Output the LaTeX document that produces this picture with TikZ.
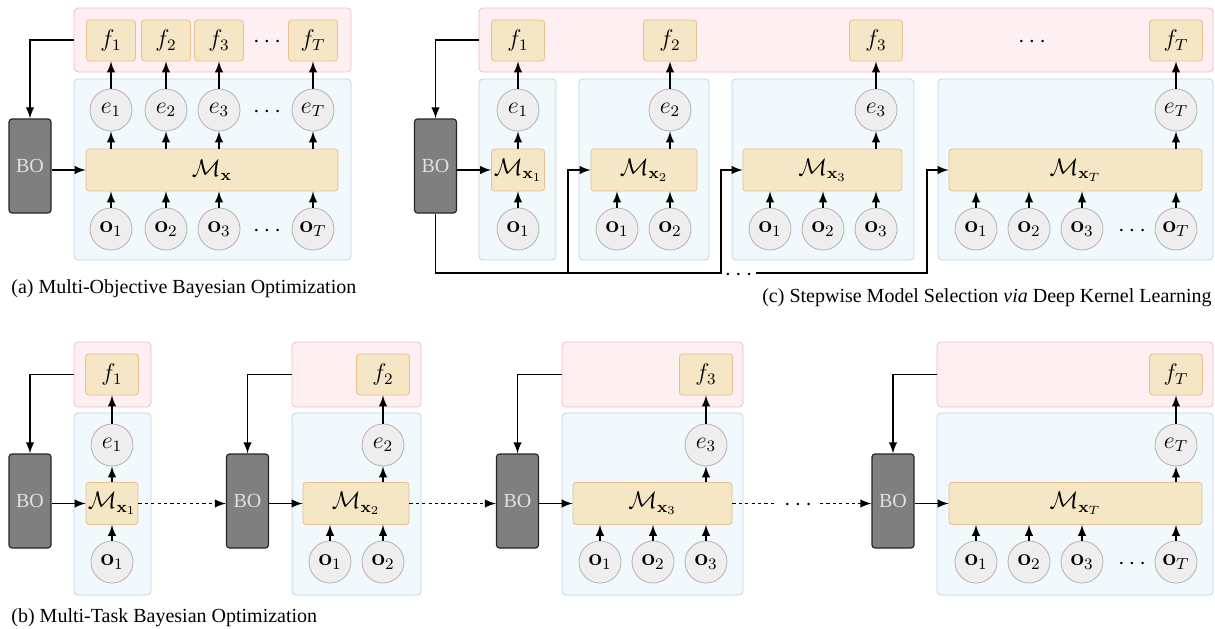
\documentclass[tikz,border=0pt]{standalone}
\usepackage[no-math]{fontspec}
\setmainfont{Liberation Serif}
\definecolor{taskfill}{HTML}{FDEFF2}
\definecolor{taskline}{HTML}{F3BCC3}
\definecolor{netfill}{HTML}{F1F9FC}
\definecolor{netline}{HTML}{BAD3E5}
\definecolor{boxfill}{HTML}{F5E6C6}
\definecolor{boxline}{HTML}{EAC08E}
\definecolor{nodefill}{HTML}{EEEEEE}
\definecolor{nodeline}{HTML}{B2B2B2}
\definecolor{bofill}{HTML}{7F7F7F}

\begin{document}
\begin{tikzpicture}
[x=0.5pt, y=-0.5pt, font=\normalsize]
\tikzstyle{taskarea}=[draw=taskline, fill=taskfill, rounded corners=2pt, inner sep=0pt]
\tikzstyle{netarea}=[draw=netline, fill=netfill, rounded corners=2pt, inner sep=0pt]
\tikzstyle{fbox}=[draw=boxline, fill=boxfill, rounded corners=1.5pt, inner sep=0pt, minimum width=26.5pt, minimum height=20.5pt, font=\large]
\tikzstyle{mbox}=[draw=boxline, fill=boxfill, rounded corners=1.5pt, inner sep=0pt, minimum height=21pt, font=\large]
\tikzstyle{vertex}=[circle, draw=nodeline, fill=nodefill, inner sep=0pt, minimum size=21pt, font=\large]
\tikzstyle{bo}=[draw=black!85, fill=bofill, rounded corners=1.5pt, line width=0.6pt, minimum width=21pt, minimum height=47pt, text=white!88!black]
\tikzstyle{ellip}=[inner sep=0pt, yshift=-1pt, font=\large]
\tikzstyle{link}=[line width=0.9pt, -latex]
\tikzstyle{dotlink}=[line width=0.9pt, -latex, dash pattern=on 1.6pt off 1.6pt]
\tikzstyle{caption}=[inner sep=0pt]

\useasboundingbox (0,0) rectangle (1215,628);

% (a)
\node[taskarea, minimum width=138.5pt, minimum height=32pt]	(aT)	at (212.5,40)	{};
\node[netarea, minimum width=138.5pt, minimum height=90.5pt]	(aN)	at (212.5,169.5)	{};
\node[fbox, minimum width=24.5pt]	(aF1)	at (111,40.5)	{$f_1$};
\node[fbox, minimum width=24.5pt]	(aF2)	at (166,40.5)	{$f_2$};
\node[fbox, minimum width=24.5pt]	(aF3)	at (219,40.5)	{$f_3$};
\node[ellip]	(aFd)	at (267,40.5)	{$\cdots$};
\node[fbox, minimum width=24.5pt]	(aFT)	at (313,40.5)	{$f_T$};
\node[vertex]	(aE1)	at (111,110)	{$e_1$};
\node[vertex]	(aE2)	at (166,110)	{$e_2$};
\node[vertex]	(aE3)	at (219,110)	{$e_3$};
\node[ellip]	(aEd)	at (267,110)	{$\cdots$};
\node[vertex]	(aET)	at (313,110)	{$e_T$};
\node[mbox, minimum width=126pt]	(aM)	at (212,170)	{$\mathcal{M}_{\mathbf{x}}$};
\node[vertex]	(aO1)	at (111,229)	{$\mathbf{o}_1$};
\node[vertex]	(aO2)	at (166,229)	{$\mathbf{o}_2$};
\node[vertex]	(aO3)	at (219,229)	{$\mathbf{o}_3$};
\node[ellip]	(aOd)	at (267,229)	{$\cdots$};
\node[vertex]	(aOT)	at (313,229)	{$\mathbf{o}_T$};
\node[bo]	(aBO)	at (30,166)	{BO};
\node[caption, anchor=west]	(aCap)	at (11,289)	{(a) Multi-Objective Bayesian Optimization};

\draw[link]	(aT.west) -| (aBO.north);
\draw[link]	(aBO.east |- aM.west) -- (aM.west);
\draw[link]	(aE1) -- (aF1);
\draw[link]	(aE2) -- (aF2);
\draw[link]	(aE3) -- (aF3);
\draw[link]	(aET) -- (aFT);
\draw[link]	(aM.north -| aE1) -- (aE1);
\draw[link]	(aM.north -| aE2) -- (aE2);
\draw[link]	(aM.north -| aE3) -- (aE3);
\draw[link]	(aM.north -| aET) -- (aET);
\draw[link]	(aO1) -- (aO1 |- aM.south);
\draw[link]	(aO2) -- (aO2 |- aM.south);
\draw[link]	(aO3) -- (aO3 |- aM.south);
\draw[link]	(aOT) -- (aOT |- aM.south);

% (c)
\node[taskarea, minimum width=367pt, minimum height=32pt]	(cT)	at (846,40)	{};
\node[netarea, minimum width=38.5pt, minimum height=90.5pt]	(cN1)	at (517.5,169.5)	{};
\node[netarea, minimum width=65pt, minimum height=90.5pt]	(cN2)	at (644,169.5)	{};
\node[netarea, minimum width=91pt, minimum height=90.5pt]	(cN3)	at (823,169.5)	{};
\node[netarea, minimum width=137.5pt, minimum height=90.5pt]	(cN4)	at (1075.5,169.5)	{};
\node[fbox]	(cF1)	at (518,40.5)	{$f_1$};
\node[fbox]	(cF2)	at (670,40.5)	{$f_2$};
\node[fbox]	(cF3)	at (876,40.5)	{$f_3$};
\node[ellip]	(cFd)	at (1032,40.5)	{$\cdots$};
\node[fbox]	(cFT)	at (1176,40.5)	{$f_T$};
\node[vertex]	(cE1)	at (518,110)	{$e_1$};
\node[vertex]	(cE2)	at (670,110)	{$e_2$};
\node[vertex]	(cE3)	at (876,110)	{$e_3$};
\node[vertex]	(cET)	at (1176,110)	{$e_T$};
\node[mbox, minimum width=26.5pt]	(cM1)	at (518,170)	{$\mathcal{M}_{\mathbf{x}_1}$};
\node[mbox, minimum width=53pt]	(cM2)	at (644,170)	{$\mathcal{M}_{\mathbf{x}_2}$};
\node[mbox, minimum width=79.5pt]	(cM3)	at (822.5,170)	{$\mathcal{M}_{\mathbf{x}_3}$};
\node[mbox, minimum width=126.5pt]	(cMT)	at (1075.5,170)	{$\mathcal{M}_{\mathbf{x}_T}$};
\node[vertex]	(c1O1)	at (518,229)	{$\mathbf{o}_1$};
\node[vertex]	(c2O1)	at (617,229)	{$\mathbf{o}_1$};
\node[vertex]	(c2O2)	at (670,229)	{$\mathbf{o}_2$};
\node[vertex]	(c3O1)	at (770,229)	{$\mathbf{o}_1$};
\node[vertex]	(c3O2)	at (823,229)	{$\mathbf{o}_2$};
\node[vertex]	(c3O3)	at (876,229)	{$\mathbf{o}_3$};
\node[vertex]	(c4O1)	at (976,229)	{$\mathbf{o}_1$};
\node[vertex]	(c4O2)	at (1029,229)	{$\mathbf{o}_2$};
\node[vertex]	(c4O3)	at (1082,229)	{$\mathbf{o}_3$};
\node[ellip]	(c4Od)	at (1132,229)	{$\cdots$};
\node[vertex]	(c4OT)	at (1176,229)	{$\mathbf{o}_T$};
\node[bo]	(cBO)	at (435.5,166)	{BO};
\node[ellip]	(cBd)	at (738.5,273)	{$\cdots$};
\node[caption, anchor=east]	(cCap)	at (1212,298)	{(c) Stepwise Model Selection \textit{via} Deep Kernel Learning};

\coordinate (cb1) at (568,273);
\coordinate (cb2) at (721,273);
\coordinate (cb3) at (756,273);
\coordinate (cb4) at (927,273);

\draw[link]	(cT.west) -| (cBO.north);
\draw[link]	(cBO.east |- cM1.west) -- (cM1.west);
\draw[link]	(cBO.south) |- (cb1) |- (cM2.west);
\draw[link]	(cb1) -- (cb2) |- (cM3.west);
\draw[link]	(cb3) -- (cb4) |- (cMT.west);
\draw[link]	(cE1) -- (cF1);
\draw[link]	(cE2) -- (cF2);
\draw[link]	(cE3) -- (cF3);
\draw[link]	(cET) -- (cFT);
\draw[link]	(cM1.north -| cE1) -- (cE1);
\draw[link]	(cM2.north -| cE2) -- (cE2);
\draw[link]	(cM3.north -| cE3) -- (cE3);
\draw[link]	(cMT.north -| cET) -- (cET);
\draw[link]	(c1O1) -- (c1O1 |- cM1.south);
\draw[link]	(c2O1) -- (c2O1 |- cM2.south);
\draw[link]	(c2O2) -- (c2O2 |- cM2.south);
\draw[link]	(c3O1) -- (c3O1 |- cM3.south);
\draw[link]	(c3O2) -- (c3O2 |- cM3.south);
\draw[link]	(c3O3) -- (c3O3 |- cM3.south);
\draw[link]	(c4O1) -- (c4O1 |- cMT.south);
\draw[link]	(c4O2) -- (c4O2 |- cMT.south);
\draw[link]	(c4O3) -- (c4O3 |- cMT.south);
\draw[link]	(c4OT) -- (c4OT |- cMT.south);

% (b)
\node[taskarea, minimum width=38.5pt, minimum height=32.5pt]	(bT1)	at (112.5,374.5)	{};
\node[netarea, minimum width=38.5pt, minimum height=91pt]	(bN1)	at (112.5,504)	{};
\node[taskarea, minimum width=64.5pt, minimum height=32.5pt]	(bT2)	at (356.5,374.5)	{};
\node[netarea, minimum width=64.5pt, minimum height=91pt]	(bN2)	at (356.5,504)	{};
\node[taskarea, minimum width=90.5pt, minimum height=32.5pt]	(bT3)	at (652.5,374.5)	{};
\node[netarea, minimum width=90.5pt, minimum height=91pt]	(bN3)	at (652.5,504)	{};
\node[taskarea, minimum width=138pt, minimum height=32.5pt]	(bT4)	at (1075,374.5)	{};
\node[netarea, minimum width=138pt, minimum height=91pt]	(bN4)	at (1075,504)	{};

\node[fbox]	(bF1)	at (112,374.5)	{$f_1$};
\node[vertex]	(bE1)	at (112,445)	{$e_1$};
\node[mbox, minimum width=26pt]	(bM1)	at (112,503.5)	{$\mathcal{M}_{\mathbf{x}_1}$};
\node[vertex]	(b1O1)	at (112,562)	{$\mathbf{o}_1$};
\node[bo]	(bBO1)	at (30,501)	{BO};

\node[fbox]	(bF2)	at (383,374.5)	{$f_2$};
\node[vertex]	(bE2)	at (383,445)	{$e_2$};
\node[mbox, minimum width=53pt]	(bM2)	at (356,503.5)	{$\mathcal{M}_{\mathbf{x}_2}$};
\node[vertex]	(b2O1)	at (330,562)	{$\mathbf{o}_1$};
\node[vertex]	(b2O2)	at (383,562)	{$\mathbf{o}_2$};
\node[bo]	(bBO2)	at (247.5,501)	{BO};

\node[fbox]	(bF3)	at (706,374.5)	{$f_3$};
\node[vertex]	(bE3)	at (706,445)	{$e_3$};
\node[mbox, minimum width=79.5pt]	(bM3)	at (652.5,503.5)	{$\mathcal{M}_{\mathbf{x}_3}$};
\node[vertex]	(b3O1)	at (600,562)	{$\mathbf{o}_1$};
\node[vertex]	(b3O2)	at (653,562)	{$\mathbf{o}_2$};
\node[vertex]	(b3O3)	at (706,562)	{$\mathbf{o}_3$};
\node[bo]	(bBO3)	at (517.5,501)	{BO};

\node[fbox]	(bFT)	at (1176,374.5)	{$f_T$};
\node[vertex]	(bET)	at (1176,445)	{$e_T$};
\node[mbox, minimum width=126.5pt]	(bMT)	at (1075.5,503.5)	{$\mathcal{M}_{\mathbf{x}_T}$};
\node[vertex]	(b4O1)	at (976,562)	{$\mathbf{o}_1$};
\node[vertex]	(b4O2)	at (1029,562)	{$\mathbf{o}_2$};
\node[vertex]	(b4O3)	at (1082,562)	{$\mathbf{o}_3$};
\node[ellip]	(b4Od)	at (1132,562)	{$\cdots$};
\node[vertex]	(b4OT)	at (1176,562)	{$\mathbf{o}_T$};
\node[bo]	(bBO4)	at (893,501)	{BO};

\node[ellip]	(bMd)	at (798,503.5)	{$\cdots$};
\node[caption, anchor=west]	(bCap)	at (11,618)	{(b) Multi-Task Bayesian Optimization};

\coordinate (bd1) at (775,503.5);
\coordinate (bd2) at (820,503.5);

\draw[link]	(bT1.west) -| (bBO1.north);
\draw[link]	(bT2.west) -| (bBO2.north);
\draw[link]	(bT3.west) -| (bBO3.north);
\draw[link]	(bT4.west) -| (bBO4.north);
\draw[link]	(bBO1.east |- bM1.west) -- (bM1.west);
\draw[link]	(bBO2.east |- bM2.west) -- (bM2.west);
\draw[link]	(bBO3.east |- bM3.west) -- (bM3.west);
\draw[link]	(bBO4.east |- bMT.west) -- (bMT.west);
\draw[dotlink]	(bM1.east) -- (bBO2.west |- bM1.east);
\draw[dotlink]	(bM2.east) -- (bBO3.west |- bM2.east);
\draw[dotlink, -]	(bM3.east) -- (bd1);
\draw[dotlink]	(bd2) -- (bBO4.west |- bd2);
\draw[link]	(bE1) -- (bF1);
\draw[link]	(bE2) -- (bF2);
\draw[link]	(bE3) -- (bF3);
\draw[link]	(bET) -- (bFT);
\draw[link]	(bM1.north -| bE1) -- (bE1);
\draw[link]	(bM2.north -| bE2) -- (bE2);
\draw[link]	(bM3.north -| bE3) -- (bE3);
\draw[link]	(bMT.north -| bET) -- (bET);
\draw[link]	(b1O1) -- (b1O1 |- bM1.south);
\draw[link]	(b2O1) -- (b2O1 |- bM2.south);
\draw[link]	(b2O2) -- (b2O2 |- bM2.south);
\draw[link]	(b3O1) -- (b3O1 |- bM3.south);
\draw[link]	(b3O2) -- (b3O2 |- bM3.south);
\draw[link]	(b3O3) -- (b3O3 |- bM3.south);
\draw[link]	(b4O1) -- (b4O1 |- bMT.south);
\draw[link]	(b4O2) -- (b4O2 |- bMT.south);
\draw[link]	(b4O3) -- (b4O3 |- bMT.south);
\draw[link]	(b4OT) -- (b4OT |- bMT.south);
\end{tikzpicture}
\end{document}
